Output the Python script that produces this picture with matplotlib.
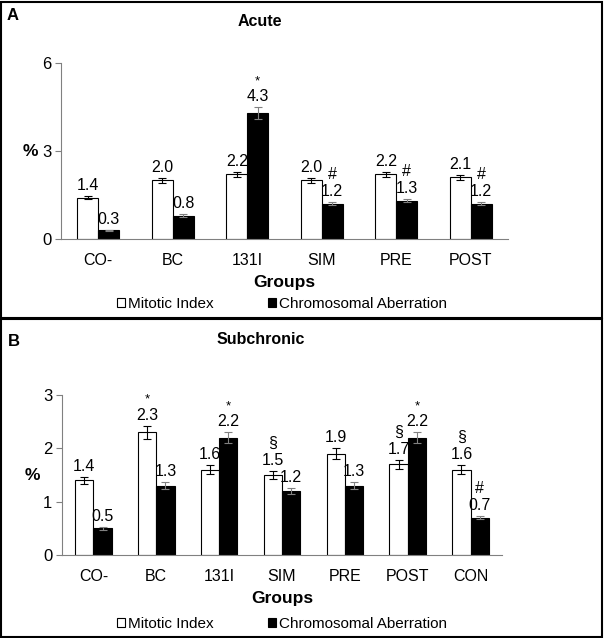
import matplotlib.pyplot as plt
import numpy as np
from matplotlib.patches import Rectangle

plt.rcParams['font.family'] = ['Liberation Sans', 'DejaVu Sans']

# acute
acute_groups = ['CO-', 'BC', '131I', 'SIM', 'PRE', 'POST']
acute_mi = [1.4, 2.0, 2.2, 2.0, 2.2, 2.1]
acute_mi_err = [0.05, 0.09, 0.09, 0.09, 0.09, 0.09]
acute_ca = [0.3, 0.8, 4.3, 1.2, 1.3, 1.2]
acute_ca_err = [0.02, 0.04, 0.2, 0.05, 0.05, 0.05]
acute_mi_mark = ['', '', '', '', '', '']
acute_ca_mark = ['', '', '*', '#', '#', '#']

# subchronic
sub_groups = ['CO-', 'BC', '131I', 'SIM', 'PRE', 'POST', 'CON']
sub_mi = [1.4, 2.3, 1.6, 1.5, 1.9, 1.7, 1.6]
sub_mi_err = [0.06, 0.12, 0.09, 0.08, 0.1, 0.08, 0.09]
sub_ca = [0.5, 1.3, 2.2, 1.2, 1.3, 2.2, 0.7]
sub_ca_err = [0.03, 0.07, 0.1, 0.06, 0.07, 0.1, 0.03]
sub_mi_mark = ['', '*', '', '§', '', '§', '§']
sub_ca_mark = ['', '', '*', '', '', '*', '#']

FS = 11.5


def draw_panel(ax, groups, mi, mi_err, ca, ca_err, mi_mark, ca_mark, ymax, yticks, width):
    x = np.arange(len(groups))
    ax.bar(x - width / 2, mi, width, color='white', edgecolor='black', linewidth=0.8,
           yerr=mi_err, error_kw=dict(ecolor='black', elinewidth=0.8, capsize=3, capthick=0.8))
    ax.bar(x + width / 2, ca, width, color='black', edgecolor='black', linewidth=0.8,
           yerr=ca_err, error_kw=dict(ecolor='#808080', elinewidth=0.8, capsize=3, capthick=0.8))
    for xs, vals, errs, marks in [(x - width / 2, mi, mi_err, mi_mark),
                                  (x + width / 2, ca, ca_err, ca_mark)]:
        for xi, v, e, m in zip(xs, vals, errs, marks):
            ax.annotate(f'{v:.1f}', (xi, v + e), xytext=(0, 3), textcoords='offset pixels',
                        ha='center', va='bottom', fontsize=FS)
            if m:
                ax.annotate(m, (xi, v + e), xytext=(0, 20), textcoords='offset pixels',
                            ha='center', va='bottom', fontsize=FS if m != '*' else 9.5)
    ax.set_xlim(-0.5, len(groups) - 0.5)
    ax.set_ylim(0, ymax)
    ax.set_yticks(yticks)
    ax.set_xticks(x)
    ax.set_xticklabels(groups, fontsize=FS)
    ax.tick_params(axis='y', labelsize=FS + 0.5, length=4, color='#808080', pad=3)
    ax.tick_params(axis='x', length=0, pad=10)
    for s in ['top', 'right']:
        ax.spines[s].set_visible(False)
    ax.spines['left'].set_color('#808080')
    ax.spines['bottom'].set_color('#808080')
    ax.set_xlabel('Groups', fontsize=12.5, fontweight='bold', labelpad=5)


fig = plt.figure(figsize=(6.04, 6.38), dpi=100)
W, H = 604, 638

ax1 = fig.add_axes([61 / W, 1 - 239 / H, (508 - 61) / W, (239 - 63) / H])
draw_panel(ax1, acute_groups, acute_mi, acute_mi_err, acute_ca, acute_ca_err,
           acute_mi_mark, acute_ca_mark, 6, [0, 3, 6], 0.28)

ax2 = fig.add_axes([62 / W, 1 - 555 / H, (502 - 62) / W, (555 - 395) / H])
draw_panel(ax2, sub_groups, sub_mi, sub_mi_err, sub_ca, sub_ca_err,
           sub_mi_mark, sub_ca_mark, 3, [0, 1, 2, 3], 0.29)

# panel texts
fig.text(260 / W, 1 - 21 / H, 'Acute', ha='center', va='center', fontsize=11.5, fontweight='bold')
fig.text(261 / W, 1 - 339 / H, 'Subchronic', ha='center', va='center', fontsize=11.5, fontweight='bold')
fig.text(13 / W, 1 - 16 / H, 'A', ha='center', va='center', fontsize=12, fontweight='bold')
fig.text(14 / W, 1 - 341 / H, 'B', ha='center', va='center', fontsize=12, fontweight='bold')
fig.text(30 / W, 1 - 151 / H, '%', ha='center', va='center', fontsize=12.5, fontweight='bold')
fig.text(32 / W, 1 - 476 / H, '%', ha='center', va='center', fontsize=12.5, fontweight='bold')

# legends
handles = [Rectangle((0, 0), 1, 1, facecolor='white', edgecolor='black', linewidth=0.8),
           Rectangle((0, 0), 1, 1, facecolor='black', edgecolor='black', linewidth=0.8)]
labels = ['Mitotic Index', 'Chromosomal Aberration']
for yc in [304, 624]:
    fig.legend(handles, labels, loc='center', bbox_to_anchor=(282 / W, 1 - yc / H), ncol=2,
               frameon=False, fontsize=11, handlelength=0.5, handleheight=0.5,
               handletextpad=0.2, columnspacing=3.6, borderpad=0)

# panel borders
fig.add_artist(Rectangle((1 / W, 1 - 318 / H), 601 / W, 316 / H, transform=fig.transFigure,
                         fill=False, edgecolor='black', linewidth=1.5))
fig.add_artist(Rectangle((1 / W, 1 / H), 601 / W, 318 / H, transform=fig.transFigure,
                         fill=False, edgecolor='black', linewidth=1.5))

plt.savefig('out.png', dpi=100)
